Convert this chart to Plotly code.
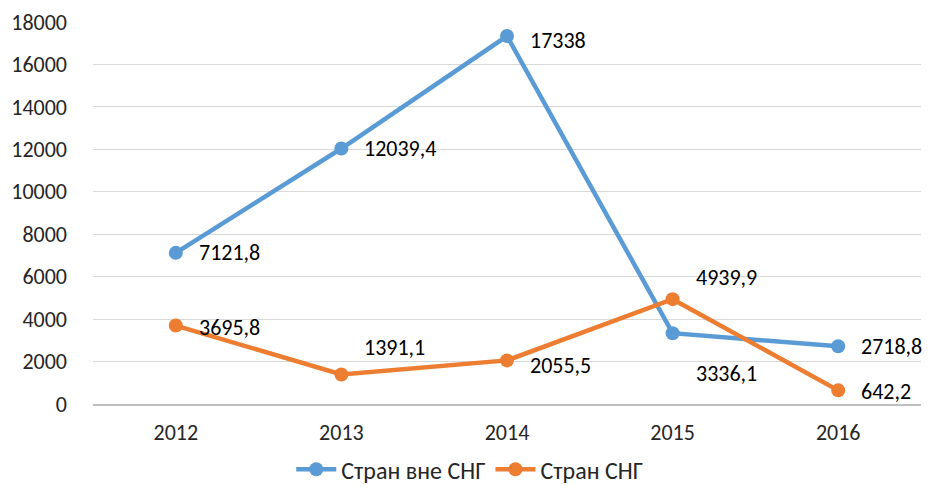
import plotly.graph_objects as go

years = ["2012", "2013", "2014", "2015", "2016"]
outside_cis = [7121.8, 12039.4, 17338, 3336.1, 2718.8]
cis = [3695.8, 1391.1, 2055.5, 4939.9, 642.2]
names = ["Стран вне СНГ", "Стран СНГ"]
colors = ["#5B9BD5", "#ED7D31"]
y_ticks = list(range(0, 18001, 2000))

# label offsets (pixels) per point
offs_outside = [(0, 0), (0, 0), (0, -4), (0, -40), (0, 0)]
offs_cis = [(0, -2), (0, 27), (0, -5), (0, 22), (0, -1)]

FONT = "Carlito, Calibri, Lato, 'Open Sans', sans-serif"
FS = 22

def fmt(v):
    s = f"{v:.1f}".rstrip("0").rstrip(".")
    return s.replace(".", ",")

xi = list(range(len(years)))

fig = go.Figure()
for name, vals, col in [(names[0], outside_cis, colors[0]), (names[1], cis, colors[1])]:
    fig.add_trace(go.Scatter(
        x=xi, y=vals, name=name, mode="lines+markers",
        line=dict(color=col, width=4.5),
        marker=dict(color=col, size=14),
    ))

annotations = []
for vals, offs in [(outside_cis, offs_outside), (cis, offs_cis)]:
    for i, v, (dx, dy) in zip(xi, vals, offs):
        annotations.append(dict(
            x=i, y=v, xref="x", yref="y", text=fmt(v), showarrow=False,
            xanchor="left", yanchor="middle", xshift=21 + dx, yshift=dy,
            font=dict(family=FONT, size=FS, color="#000000"),
        ))

fig.update_layout(
    width=932, height=490,
    margin=dict(l=85, r=19, t=14, b=94, autoexpand=False),
    plot_bgcolor="white", paper_bgcolor="white",
    font=dict(family=FONT, size=FS, color="#262626"),
    showlegend=True,
    legend=dict(orientation="h", x=0.455, xanchor="center", y=-0.172, yanchor="middle",
                font=dict(family=FONT, size=24, color="#262626"), itemwidth=40,
                tracegroupgap=10),
    annotations=annotations,
    xaxis=dict(range=[-0.5, len(years) - 0.5], tickvals=xi, ticktext=years,
               showgrid=False, showline=True, linecolor="#BFBFBF", zeroline=False,
               linewidth=1.5, ticks="", tickfont=dict(family=FONT, size=FS),
               automargin=False, ticklabelstandoff=8),
    yaxis=dict(range=[0, 18000], tickvals=y_ticks, ticktext=[str(t) for t in y_ticks],
               showgrid=True, gridcolor="#D9D9D9",
               zeroline=False, showline=False, ticks="", tickfont=dict(family=FONT, size=FS),
               ticklabelstandoff=25, automargin=False),
)

fig.write_html("out.html")
